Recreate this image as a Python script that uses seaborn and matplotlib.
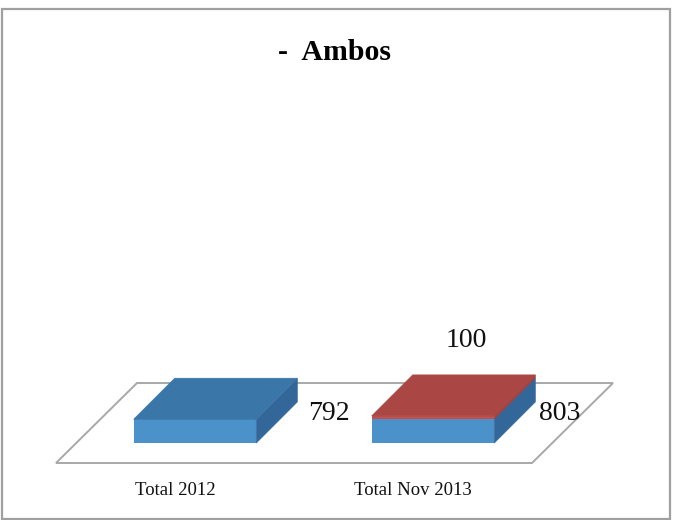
import matplotlib
matplotlib.use("Agg")
import matplotlib.pyplot as plt
from matplotlib.patches import Polygon, Rectangle
from matplotlib.transforms import Affine2D
import pandas as pd
import seaborn as sns

categories = ["Total 2012", "Total Nov 2013"]
blue_values = [792, 803]
red_values = [0, 100]

sns.set_theme(style="white")
plt.rcParams["font.family"] = ["Liberation Serif", "DejaVu Serif"]

df = pd.DataFrame({"periodo": categories, "blue": blue_values, "red": red_values})

fig = plt.figure(figsize=(6.73, 5.2), dpi=100, facecolor="white")
ax = fig.add_axes([56 / 673, (520 - 463) / 520, 476 / 673, 300 / 520])

# the outer frame of the pasted picture
fig.add_artist(Rectangle((1.5 / 673, 1 / 520), 668.5 / 673, 510 / 520, transform=fig.transFigure,
                         fill=False, edgecolor="#a0a0a0", linewidth=1.6))

sns.barplot(data=df, x="periodo", y="blue", color="#4a92c9", saturation=1, width=0.515, ax=ax,
            linewidth=0, zorder=3)
n_blue = len(ax.patches)
sns.barplot(data=df, x="periodo", y="red", color="#c0504d", saturation=1, width=0.515, ax=ax,
            bottom=df["blue"].values, linewidth=0, zorder=3)

ax.set_xlim(-0.5, 1.5)
ax.set_ylim(0, 10000)

# pixels to data units, for the fake 3d depth
px_x = 2 / 476
px_y = 10000 / 300
floor_dx, floor_dy = 81 * px_x, 80 * px_y
front_dx, front_dy = 20 * px_x, 20 * px_y
depth_dx, depth_dy = 41 * px_x, 41 * px_y

ax.add_patch(Polygon([(-0.5, 0), (1.5, 0), (1.5 + floor_dx, floor_dy), (-0.5 + floor_dx, floor_dy)],
                     closed=True, facecolor="white", edgecolor="#a8a8a8", linewidth=1.4, clip_on=False, zorder=1))

shift = Affine2D().translate(front_dx, front_dy) + ax.transData
bars = [bar for bar in ax.patches if isinstance(bar, Rectangle)]
for i, patch in enumerate(bars):
    if patch.get_height() == 0:
        patch.set_visible(False)
        continue
    patch.set_transform(shift)
    patch.set_clip_on(False)
    is_blue = i < n_blue
    top, side = ("#3a76a8", "#336699") if is_blue else ("#aa4643", "#a04340")
    x0 = patch.get_x() + front_dx
    x1 = x0 + patch.get_width()
    y0 = patch.get_y() + front_dy
    y1 = y0 + patch.get_height()
    ax.add_patch(Polygon([(x1, y0), (x1 + depth_dx, y0 + depth_dy), (x1 + depth_dx, y1 + depth_dy), (x1, y1)],
                         closed=True, facecolor=side, edgecolor=side, linewidth=0.5, clip_on=False, zorder=3))
    # a blue top is hidden when red sits on it
    if is_blue and red_values[i] > 0:
        continue
    ax.add_patch(Polygon([(x0, y1), (x1, y1), (x1 + depth_dx, y1 + depth_dy), (x0 + depth_dx, y1 + depth_dy)],
                         closed=True, facecolor=top, edgecolor=top, linewidth=0.5, clip_on=False, zorder=4))

# data labels
ax.annotate(str(blue_values[0]), xy=(0, blue_values[0]), xytext=(154, 26), textcoords="offset pixels",
            ha="center", va="center", fontsize=20, color="#111111", zorder=8)
ax.annotate(str(blue_values[1]), xy=(1, blue_values[1]), xytext=(147, 25), textcoords="offset pixels",
            ha="center", va="center", fontsize=20, color="#111111", zorder=8)
ax.annotate(str(red_values[1]), xy=(1, blue_values[1] + red_values[1]), xytext=(53, 95), textcoords="offset pixels",
            ha="center", va="center", fontsize=20, color="#111111", zorder=8)

ax.set_xlabel("")
ax.set_ylabel("")
ax.set_yticks([])
ax.tick_params(axis="x", length=0, pad=13.5, labelsize=13.5, labelcolor="#111111")
sns.despine(ax=ax, left=True, bottom=True)
ax.patch.set_alpha(0)

fig.text(334.5 / 673, 1 - 53 / 520, "-  Ambos", ha="center", va="center", fontsize=21.5, fontweight="bold", color="black")

fig.savefig("out.png", dpi=100)
